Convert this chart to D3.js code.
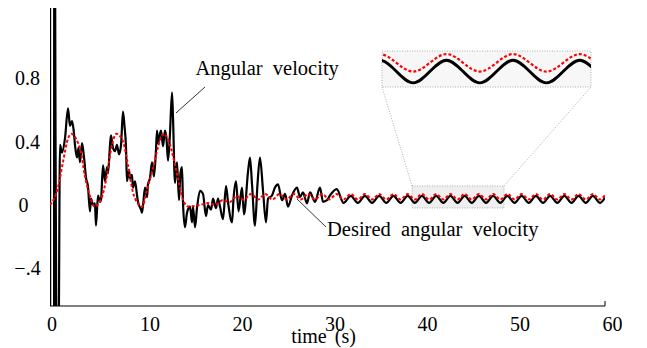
<!DOCTYPE html>
<html><head><meta charset="utf-8">
<script src="https://cdn.jsdelivr.net/npm/d3@7"></script>
<style>body{margin:0;background:#fff}svg{display:block}</style>
</head><body><svg id="c" width="647" height="348"></svg>
<script>
// ---- data ----
const timeMeasured = [0,0.03,0.43,0.46,0.6,0.76,0.92,1.08,1.3,1.62,1.95,2.16,2.38,2.54,2.7,2.92,3.08,3.24,3.46,3.68,3.9,4.1,4.32,4.43,4.65,4.86,4.97,5.19,5.4,5.51,5.73,5.95,6.16,6.27,6.49,6.59,6.81,7.03,7.24,7.46,7.68,7.89,8.05,8.22,8.32,8.54,8.65,8.86,8.97,9.19,9.41,9.51,9.84,9.95,10.27,10.49,10.59,10.81,11.03,11.24,11.46,11.57,11.68,11.89,12.0,12.22,12.43,12.59,12.76,12.97,13.19,13.3,13.51,13.62,13.73,13.95,14.1,14.27,14.38,14.59,14.81,14.97,15.14,15.35,15.46,15.68,15.89,16.22,16.54,16.86,17.08,17.41,17.62,17.95,18.16,18.38,18.7,19.03,19.24,19.68,19.84,20.11,20.38,20.76,20.97,21.41,21.62,21.84,22.16,22.43,22.7,23.03,23.35,23.57,24.0,24.32,24.65,25.08,25.41,25.73,26.16,26.7,27.03,27.35,27.78,28.11,28.65,29.19,29.51,29.95,30.27,31.0,31.74,32.51,33.28,34.05,34.82,35.59,36.36,37.13,37.9,38.67,39.44,40.21,40.98,41.75,42.52,43.29,44.06,44.83,45.6,46.37,47.14,47.91,48.68,49.45,50.22,50.99,51.76,52.53,53.3,54.07,54.84,55.61,56.38,57.15,57.92,58.69,59.46,60];
const velocityMeasured = [3.0,-3.0,-3.0,3.0,0.42,-1.2,-1.0,0.38,0.33,0.42,0.61,0.50,0.53,0.48,0.38,0.30,0.36,0.27,0.39,0.30,0.17,0.12,-0.04,0.04,0.0,0.01,-0.13,0.06,0.02,0.03,0.25,0.15,0.24,0.20,0.38,0.44,0.36,0.34,0.38,0.32,0.38,0.59,0.50,0.36,0.15,0.22,0.17,0.19,0.11,0.15,0.06,0.02,-0.03,-0.05,0.11,0.05,0.13,0.17,0.27,0.18,0.35,0.47,0.39,0.45,0.47,0.37,0.47,0.42,0.28,0.45,0.71,0.55,0.14,0.22,0.27,0.03,0.20,0.24,0.01,-0.14,-0.05,-0.02,-0.01,-0.11,-0.01,-0.14,-0.02,0.09,0.07,-0.07,0.0,-0.03,0.04,-0.02,0.04,-0.01,-0.09,0.12,0.02,-0.11,0.04,0.15,-0.04,0.11,-0.06,0.21,0.30,0.13,-0.13,0.13,0.30,0.09,-0.11,0.04,0.06,0.11,0.13,0.03,0.07,-0.01,0.06,0.11,0.05,0.08,0.01,0.08,0.02,0.11,0.02,0.03,0.06,0.10,0.013,0.057,0.013,0.057,0.013,0.057,0.013,0.057,0.013,0.057,0.013,0.057,0.013,0.057,0.013,0.057,0.013,0.057,0.013,0.057,0.013,0.057,0.013,0.057,0.013,0.057,0.013,0.057,0.013,0.057,0.013,0.057,0.013,0.057,0.013,0.057,0.013,0.047];
const timeDesired = [0,0.86,1.4,1.95,2.3,2.8,3.35,3.75,4.3,4.83,5.55,6.1,6.63,7.17,7.9,8.43,8.97,9.5,9.98,10.45,11.17,11.7,12.25,12.8,13.33,13.87,14.4,14.95,16.2,17.11,17.88,18.65,19.42,20.19,20.96,21.73,22.5,23.27,24.04,24.81,25.58,26.35,27.12,27.89,28.66,29.43,30.2,30.97,31.74,32.51,33.28,34.05,34.82,35.59,36.36,37.13,37.9,38.67,39.44,40.21,40.98,41.75,42.52,43.29,44.06,44.83,45.6,46.37,47.14,47.91,48.68,49.45,50.22,50.99,51.76,52.53,53.3,54.07,54.84,55.61,56.38,57.15,57.92,58.69,59.46,60];
const velocityDesired = [0.0,0.11,0.27,0.42,0.45,0.42,0.33,0.19,0.06,-0.01,0.04,0.17,0.36,0.45,0.40,0.25,0.08,0.01,-0.01,0.09,0.24,0.37,0.45,0.41,0.30,0.16,0.03,-0.01,0.0,0.012,0.002,0.03,0.018,0.055,0.032,0.069,0.035,0.069,0.035,0.069,0.035,0.069,0.035,0.069,0.035,0.069,0.035,0.069,0.035,0.069,0.035,0.069,0.035,0.069,0.035,0.069,0.035,0.069,0.035,0.069,0.035,0.069,0.035,0.069,0.035,0.069,0.035,0.069,0.035,0.069,0.035,0.069,0.035,0.069,0.035,0.069,0.035,0.069,0.035,0.069,0.035,0.069,0.035,0.069,0.035,0.062];
const xTicks = [0,10,20,30,40,50,60];
const yTicks = [0.8,0.4,0,-0.4];
const yTickLabels = ["0.8","0.4","0","\u2212.4"];
const xLabel = "time (s)";
const labelMeasured = "Angular velocity";
const labelDesired = "Desired angular velocity";
const xDomain = [0,60];
const yDomain = [-0.638,1.244];
const zoomTime = [39.14,49.08];
const zoomVelocity = [-0.019,0.12];
const insetTime = [41.8,46.63];
const insetVelocity = [0.005,0.075];

// ---- drawing ----
const svg = d3.select("#c");
const font = "'Liberation Serif','Times New Roman',serif";
const L = 50, R = 605, T = 8, B = 306;
const x = d3.scaleLinear().domain(xDomain).range([L,R]);
const y = d3.scaleLinear().domain(yDomain).range([B,T]);

const defs = svg.append("defs");
defs.append("clipPath").attr("id","plotClip").append("rect")
  .attr("x",L).attr("y",T).attr("width",R-L).attr("height",B-T);

const measured = d3.zip(timeMeasured, velocityMeasured);
const desired = d3.zip(timeDesired, velocityDesired);

// zoom source box (behind data)
const zb = {x0:x(zoomTime[0]), x1:x(zoomTime[1]), y0:y(zoomVelocity[1]), y1:y(zoomVelocity[0])};
const IN = {x0:382, x1:591, y0:51, y1:87};
svg.append("rect").attr("x",zb.x0).attr("y",zb.y0).attr("width",zb.x1-zb.x0).attr("height",zb.y1-zb.y0)
  .attr("fill","#efefef").attr("stroke","#999").attr("stroke-width",0.8).attr("stroke-dasharray","1,1.5");
svg.append("line").attr("x1",zb.x0).attr("y1",zb.y0).attr("x2",IN.x0).attr("y2",IN.y1)
  .attr("stroke","#999").attr("stroke-width",0.8).attr("stroke-dasharray","1,1.5");
svg.append("line").attr("x1",zb.x1).attr("y1",zb.y0).attr("x2",IN.x1).attr("y2",IN.y1)
  .attr("stroke","#999").attr("stroke-width",0.8).attr("stroke-dasharray","1,1.5");

const g = svg.append("g").attr("clip-path","url(#plotClip)");
const line = d3.line().x(d=>x(d[0])).y(d=>y(d[1])).curve(d3.curveMonotoneX);
g.append("path").datum(measured).attr("d",line).attr("fill","none")
  .attr("stroke","#000").attr("stroke-width",2.2).attr("stroke-linejoin","round");
g.append("path").datum(desired).attr("d",line).attr("fill","none")
  .attr("stroke","#ff0000").attr("stroke-width",2).attr("stroke-dasharray","3,2");

// x axis
svg.append("line").attr("x1",L).attr("x2",R).attr("y1",B).attr("y2",B).attr("stroke","#000").attr("stroke-width",1.2);
svg.append("line").attr("x1",R).attr("x2",R).attr("y1",B).attr("y2",B-5).attr("stroke","#000").attr("stroke-width",1);
svg.append("g").selectAll("text").data(xTicks).join("text")
  .attr("x",d=>x(d)+(d===0?2:7.5)).attr("y",331)
  .attr("text-anchor","middle").attr("font-family",font).attr("font-size",20).text(d=>d);
svg.append("text").attr("x",323.5).attr("y",343).attr("text-anchor","middle")
  .attr("font-family",font).attr("font-size",20).attr("word-spacing",3).text(xLabel);

// y tick labels
svg.append("g").selectAll("text").data(yTicks).join("text")
  .attr("x",d=>27.5+(d===0?-4:0)).attr("y",d=>y(d)+7)
  .attr("text-anchor","middle").attr("font-family",font).attr("font-size",20)
  .text((d,i)=>yTickLabels[i]);

// annotations
svg.append("line").attr("x1",x(13.62)).attr("y1",y(0.581)).attr("x2",205).attr("y2",87)
  .attr("stroke","#000").attr("stroke-width",0.8);
svg.append("text").attr("x",195.5).attr("y",75).attr("font-family",font).attr("font-size",20.5)
  .attr("word-spacing",5).text(labelMeasured);
svg.append("line").attr("x1",x(26.7)).attr("y1",y(0.038)).attr("x2",326).attr("y2",227)
  .attr("stroke","#000").attr("stroke-width",0.8);
svg.append("text").attr("x",327).attr("y",236).attr("font-family",font).attr("font-size",20.5)
  .attr("word-spacing",5).text(labelDesired);

// inset
defs.append("clipPath").attr("id","insetClip").append("rect")
  .attr("x",IN.x0).attr("y",IN.y0).attr("width",IN.x1-IN.x0).attr("height",IN.y1-IN.y0);
svg.append("rect").attr("x",IN.x0).attr("y",IN.y0).attr("width",IN.x1-IN.x0).attr("height",IN.y1-IN.y0)
  .attr("fill","#f7f7f7").attr("stroke","#999").attr("stroke-width",0.8).attr("stroke-dasharray","1,1.5");
const xi = d3.scaleLinear().domain(insetTime).range([IN.x0,IN.x1]);
const yi = d3.scaleLinear().domain(insetVelocity).range([IN.y1,IN.y0]);
const lineI = d3.line().x(d=>xi(d[0])).y(d=>yi(d[1])).curve(d3.curveMonotoneX);
const gi = svg.append("g").attr("clip-path","url(#insetClip)");
gi.append("path").datum(measured).attr("d",lineI).attr("fill","none")
  .attr("stroke","#000").attr("stroke-width",2.8);
gi.append("path").datum(desired).attr("d",lineI).attr("fill","none")
  .attr("stroke","#ff0000").attr("stroke-width",2.2).attr("stroke-dasharray","3,2");
</script></body></html>
